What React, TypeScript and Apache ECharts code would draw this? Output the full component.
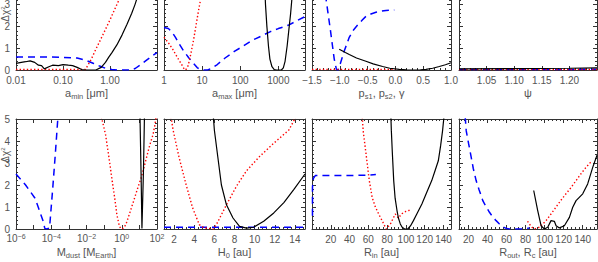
import React, { useEffect, useRef } from "react";
import * as echarts from "echarts";

// ---------- data (x, Δχ²) ----------
const aminBlack = [[0.01, 0.3], [0.013, 0.35], [0.016, 0.38], [0.02, 0.42], [0.025, 0.35], [0.03, 0.22], [0.035, 0.2], [0.04, 0.05], [0.05, 0.15], [0.06, 0.22], [0.08, 0.2], [0.1, 0.25], [0.13, 0.22], [0.16, 0.2], [0.2, 0.12], [0.25, 0.02], [0.3, 0.0], [0.5, 0.0], [0.65, 0.12], [0.8, 0.35], [0.95, 0.6], [1.1, 0.8], [1.4, 1.15], [1.8, 1.6], [2.3, 2.1], [2.9, 2.6], [3.4, 3.0], [3.9, 3.4], [5, 4.2], [6.5, 5.2]];
const aminRed = [[0.01, 0.02], [0.1, 0.02], [0.3, 0.02], [0.4, 0.5], [0.5, 0.95], [0.7, 1.6], [1.0, 2.3], [1.3, 2.85], [1.7, 3.4], [2.2, 4.0], [3.0, 4.9], [3.3, 5.1]];
const aminBlue = [[0.01, 0.6], [0.05, 0.6], [0.1, 0.58], [0.2, 0.55], [0.3, 0.45], [0.45, 0.3], [0.6, 0.18], [0.8, 0.08], [1.1, 0.02], [1.5, 0.0], [2.9, 0.0], [3.5, 0.08], [4.5, 0.25], [6, 0.45], [8, 0.65], [10, 0.8]];

const amaxBlack = [[400, 5.2], [430, 4.2], [460, 3.0], [500, 2.0], [550, 1.1], [600, 0.5], [680, 0.15], [780, 0.02], [900, 0.0], [1200, 0.0], [1350, 0.1], [1500, 0.4], [1700, 1.1], [1900, 1.9], [2100, 2.6], [2300, 3.4], [2600, 4.5], [2800, 5.2]];
const amaxRed = [[1, 1.5], [1.3, 1.25], [1.7, 0.95], [2.2, 0.6], [2.8, 0.3], [3.3, 0.08], [3.7, 0.0], [4.3, 0.2], [5.0, 0.7], [6.0, 1.4], [7.0, 2.1], [8.0, 2.7], [9.5, 3.4], [11, 4.2], [12.5, 5.1]];
const amaxBlue = [[1, 1.95], [1.3, 1.9], [1.6, 1.75], [2.0, 1.5], [2.5, 1.2], [3.2, 0.9], [4.5, 0.55], [6, 0.3], [7.5, 0.1], [9, 0.03], [11, 0.0], [14, 0.0], [18, 0.08], [25, 0.25], [40, 0.55], [70, 0.85], [120, 1.1], [200, 1.35], [350, 1.55], [600, 1.75], [1000, 1.9], [1800, 2.05], [3000, 2.25], [5000, 2.45]];

const pBlack = [[-1.01, 0.95], [-0.9, 0.8], [-0.83, 0.71], [-0.7, 0.55], [-0.53, 0.4], [-0.4, 0.28], [-0.23, 0.16], [-0.1, 0.08], [0.07, 0.03], [0.2, 0.01], [0.31, 0.0], [0.45, 0.01], [0.55, 0.03], [0.67, 0.08], [0.79, 0.16], [0.9, 0.24], [1.0, 0.33]];
const pRed = [[-1.5, 0.03], [-1.0, 0.03], [-0.5, 0.03], [0.0, 0.03]];
const pBlue = [[-1.34, 5.1], [-1.25, 3.3], [-1.17, 1.85], [-1.1, 0.5], [-1.06, 0.02], [-1.03, 0.0], [-0.99, 0.3], [-0.92, 0.87], [-0.83, 1.5], [-0.75, 1.85], [-0.68, 2.06], [-0.6, 2.28], [-0.53, 2.46], [-0.44, 2.57], [-0.35, 2.65], [-0.25, 2.7], [-0.17, 2.73], [-0.02, 2.75]];

const psiBlack = [[1.0, 0.05], [1.1, 0.06], [1.2, 0.08], [1.25, 0.1]];
const psiRed = [[1.0, 0.02], [1.25, 0.02]];
const psiBlue = [[1.0, 0.02], [1.25, 0.03]];

const mdustBlack = [[10.8, 5.2], [12.5, 2.5], [14, 0.02], [15, 0.02], [17, 2.6], [19.5, 5.2]];
const mdustRed = [[0.07, 5.1], [0.12, 4.3], [0.2, 3.1], [0.285, 2.2], [0.4, 1.4], [0.53, 0.65], [0.7, 0.2], [0.85, 0.03], [1.0, 0.0], [1.3, 0.05], [1.7, 0.2], [2.3, 0.5], [3.5, 0.95], [5.3, 1.4], [8, 1.85], [12.3, 2.3], [19, 2.85], [28.5, 3.4], [40, 3.85], [60, 4.3], [75, 4.7], [90, 5.1]];
const mdustBlue = [[1e-6, 2.5], [3.5e-6, 2.0], [1.2e-5, 1.4], [1.9e-5, 0.95], [3.5e-5, 0.35], [4.3e-5, 0.03], [5.5e-5, 0.0], [8e-5, 0.05], [1.2e-4, 1.8], [1.7e-4, 3.4], [2.4e-4, 5.1]];

const h0Black = [[5.9, 5.1], [6.0, 4.5], [6.35, 3.25], [6.7, 2.0], [7.2, 1.1], [7.85, 0.5], [8.5, 0.12], [9.2, 0.04], [9.9, 0.08], [10.9, 0.35], [11.9, 0.73], [12.9, 1.2], [13.9, 1.8], [15, 2.5]];
const h0Red = [[1.7, 5.1], [1.9, 4.5], [2.5, 3.25], [3.2, 2.0], [3.85, 0.95], [4.5, 0.2], [5.0, 0.05], [5.9, 0.0], [6.2, 0.2], [7.2, 1.1], [8.2, 1.95], [9.2, 2.65], [10.5, 3.3], [11.9, 3.9], [13.4, 4.5], [14.1, 5.1]];
const h0Blue = [[1, 0.08], [15, 0.08]];

const rinBlack = [[84, 5.1], [84.5, 4.46], [85.5, 3.5], [87, 2.2], [88.5, 1.4], [90.5, 0.84], [92, 0.5], [94, 0.23], [96, 0.08], [98.6, 0.0], [102, 0.0], [105, 0.15], [108, 0.38], [112, 0.72], [117, 1.14], [122, 1.65], [127.5, 2.2], [131, 2.65], [134.5, 3.1], [137, 3.8], [139, 4.46], [140.5, 5.1]];
const rinRed = [[53.5, 5.1], [54.5, 4.46], [58.8, 2.97], [61, 2.2], [64, 1.45], [67, 1.05], [71, 0.68], [75, 0.35], [79, 0.0], [83.5, 0.23], [88.7, 0.68], [92, 0.5], [95.8, 0.7], [100, 0.8], [103, 0.84], [106, 0.9]];
const rinBlue = [[0.5, 0.6], [0.5, 1.9], [1.5, 2.3], [3.5, 2.43], [20, 2.43], [40, 2.43], [60, 2.45], [68, 2.48]];

const routBlack = [[88.5, 1.75], [92.7, 0.84], [96.2, 0.15], [99.7, 0.0], [103.2, 0.08], [106.7, 0.38], [110.2, 0.35], [112, 0.15], [115.5, 0.05], [120.7, 0.15], [126, 0.53], [129.5, 0.99], [133, 1.29], [136.4, 1.44], [140, 1.6], [145.2, 2.05], [150.5, 2.8], [155, 3.35]];
const routRed = [[82, 0.35], [86, 0.1], [89, 0.0], [94.5, 0.08], [101.5, 0.38], [107, 0.7], [112, 1.0], [117, 1.3], [122.4, 1.6], [128, 1.9], [133, 2.2], [138, 2.5], [143.4, 2.8], [148.7, 3.05]];
const routBlue = [[16.5, 5.1], [17.6, 4.46], [20, 3.9], [22.8, 3.27], [25, 2.75], [28, 2.2], [31, 1.8], [35, 1.29], [38, 1.05], [42, 0.76], [46, 0.52], [49, 0.38], [52, 0.25], [56, 0.1], [60, 0.02], [63, 0.0], [80, 0.0], [84, 0.05]];

const xTitles = [
  "a{sub|min} [μm]",
  "a{sub|max} [μm]",
  "p{sub|s1}, p{sub|s2}, γ",
  "ψ",
  "M{sub|dust} [M{sub|Earth}]",
  "H{sub|0} [au]",
  "R{sub|in} [au]",
  "R{sub|out}, R{sub|c} [au]",
];
// y tick labels shown per row (row 1's upper ticks lie above the picture)
const yTicksRow = [[0, 1, 2, 3], [0, 1, 2, 3, 4, 5]];
const yTitle = "Δχ{sup|2}";

// ---------- layout / style ----------
const COL_LEFT = [16, 164, 312, 459];
const COL_WIDTH = [141, 141, 139, 138];
const ROW_TOP = [-39, 119];
const ROW_HEIGHT = [109, 110];
const Y_TITLE_POS = [14, 155];
const FONT = "'Liberation Sans Narrow', 'Liberation Sans', Arial, sans-serif";
const LABEL_COLOR = "#555";
const AXIS_COLOR = "#333";

const minus = (s: string) => s.replace("-", "−");

const panels: any[] = [
  { xType: "log", min: 0.01, max: 10, fmt: (v: number) => v.toFixed(2), showMin: true, showMax: false, black: aminBlack, red: aminRed, blue: aminBlue },
  { xType: "log", min: 1, max: 5000, fmt: (v: number) => String(Math.round(v)), showMin: true, showMax: false, black: amaxBlack, red: amaxRed, blue: amaxBlue },
  { xType: "value", min: -1.5, max: 1.0, interval: 0.5, fmt: (v: number) => minus(v.toFixed(1)), showMin: true, showMax: true, black: pBlack, red: pRed, blue: pBlue },
  { xType: "value", min: 1.0, max: 1.25, interval: 0.05, fmt: (v: number) => v.toFixed(2), showMin: false, showMax: false, black: psiBlack, red: psiRed, blue: psiBlue },
  {
    xType: "log", min: 1e-6, max: 1e2, sup: true,
    fmt: (v: number) => {
      const e = Math.round(Math.log10(v));
      if (e % 2 !== 0) return "";
      return "10{sup|" + minus(String(e)) + "}";
    },
    showMin: true, showMax: true, black: mdustBlack, red: mdustRed, blue: mdustBlue,
  },
  { xType: "value", min: 1, max: 15, split: 7, fmt: (v: number) => String(v), showMin: false, showMax: false, black: h0Black, red: h0Red, blue: h0Blue },
  { xType: "value", min: 0, max: 148, interval: 20, fmt: (v: number) => String(v), showMin: false, showMax: false, black: rinBlack, red: rinRed, blue: rinBlue },
  { xType: "value", min: 10, max: 155, split: 7, fmt: (v: number) => String(v), showMin: false, showMax: false, black: routBlack, red: routRed, blue: routBlue },
];

function buildOption() {
  const grid: any[] = [];
  const xAxis: any[] = [];
  const yAxis: any[] = [];
  const series: any[] = [];
  const graphic: any[] = [];

  panels.forEach((p, i) => {
    const r = Math.floor(i / 4);
    const c = i % 4;
    grid.push({
      left: COL_LEFT[c], top: ROW_TOP[r], width: COL_WIDTH[c], height: ROW_HEIGHT[r],
      containLabel: false, outerBoundsMode: "none", show: false,
    });
    const isLog = p.xType === "log";
    const common: any = {
      type: p.xType, gridIndex: i, min: p.min, max: p.max,
      splitLine: { show: false },
      axisLine: { show: true, onZero: false, lineStyle: { color: AXIS_COLOR, width: 1 } },
      axisTick: { show: true, inside: true, length: 4, lineStyle: { color: AXIS_COLOR } },
      minorTick: isLog ? { show: false } : { show: true, splitNumber: 5, length: 2, lineStyle: { color: AXIS_COLOR } },
    };
    if (isLog) common.logBase = 10;
    if (p.interval) common.interval = p.interval;
    if (p.split) common.splitNumber = p.split;
    const label: any = {
      show: true, margin: 5, color: LABEL_COLOR, fontFamily: FONT, fontSize: 10,
      showMinLabel: p.showMin, showMaxLabel: p.showMax, hideOverlap: false,
      formatter: p.fmt,
    };
    if (p.sup) {
      label.margin = 4;
      label.lineHeight = 11;
      label.rich = { sup: { fontSize: 7, lineHeight: 6, verticalAlign: "top", color: LABEL_COLOR, fontFamily: FONT } };
    }
    xAxis.push({
      ...common, position: "bottom",
      axisLabel: label,
      name: xTitles[i], nameLocation: "middle", nameGap: 16, nameMoveOverlap: false,
      nameTextStyle: {
        color: LABEL_COLOR, fontFamily: FONT, fontSize: 11, lineHeight: 14,
        rich: { sub: { fontSize: 7.5, lineHeight: 9, verticalAlign: "bottom", color: LABEL_COLOR, fontFamily: FONT } },
      },
    });
    xAxis.push({ ...common, position: "top", axisLabel: { show: false } });

    const yCommon: any = {
      type: "value", gridIndex: i, min: 0, max: 5, interval: 1,
      splitLine: { show: false },
      axisLine: { show: true, onZero: false, lineStyle: { color: AXIS_COLOR, width: 1 } },
      axisTick: { show: true, inside: true, length: 4, lineStyle: { color: AXIS_COLOR } },
      minorTick: { show: true, splitNumber: 5, length: 2, lineStyle: { color: AXIS_COLOR } },
    };
    const shownTicks = yTicksRow[r];
    yAxis.push({
      ...yCommon, position: "left",
      axisLabel: {
        show: c === 0, margin: 6, color: LABEL_COLOR, fontFamily: FONT, fontSize: 10, lineHeight: 8,
        showMaxLabel: r === 1, hideOverlap: false,
        formatter: (v: number) => (shownTicks.includes(v) ? String(v) : ""),
      },
    });
    yAxis.push({ ...yCommon, position: "right", axisLabel: { show: false } });

    const xa = 2 * i;
    const base = { type: "line", xAxisIndex: xa, yAxisIndex: xa, symbol: "none", showSymbol: false, clip: true, animation: false, silent: true };
    series.push({ ...base, name: "blue" + i, data: p.blue, z: 2, lineStyle: { color: "#0000ff", width: 1.5, type: [7, 5] } });
    series.push({ ...base, name: "red" + i, data: p.red, z: 3, lineStyle: { color: "#ff0000", width: 1.4, type: [1.4, 2.2] } });
    series.push({ ...base, name: "black" + i, data: p.black, z: 4, lineStyle: { color: "#000000", width: 1.2, type: "solid" } });
  });

  Y_TITLE_POS.forEach((y) => {
    graphic.push({
      type: "text", x: 5, y, rotation: Math.PI / 2,
      style: {
        text: yTitle, fill: LABEL_COLOR, font: "10px " + FONT, align: "center", verticalAlign: "middle",
        rich: { sup: { fontSize: 6, fill: LABEL_COLOR, verticalAlign: "top", lineHeight: 6 } },
      },
    });
  });

  return { animation: false, backgroundColor: "#ffffff", grid, xAxis, yAxis, series, graphic };
}

export default function App() {
  const ref = useRef<HTMLDivElement>(null);
  useEffect(() => {
    if (!ref.current) return;
    const chart = echarts.init(ref.current, null, { renderer: "svg" });
    chart.setOption(buildOption() as any);
    return () => chart.dispose();
  }, []);
  return (
    <div
      ref={ref}
      style={{ position: "fixed", left: 0, top: 0, width: 598, height: 262, background: "#fff" }}
    />
  );
}
